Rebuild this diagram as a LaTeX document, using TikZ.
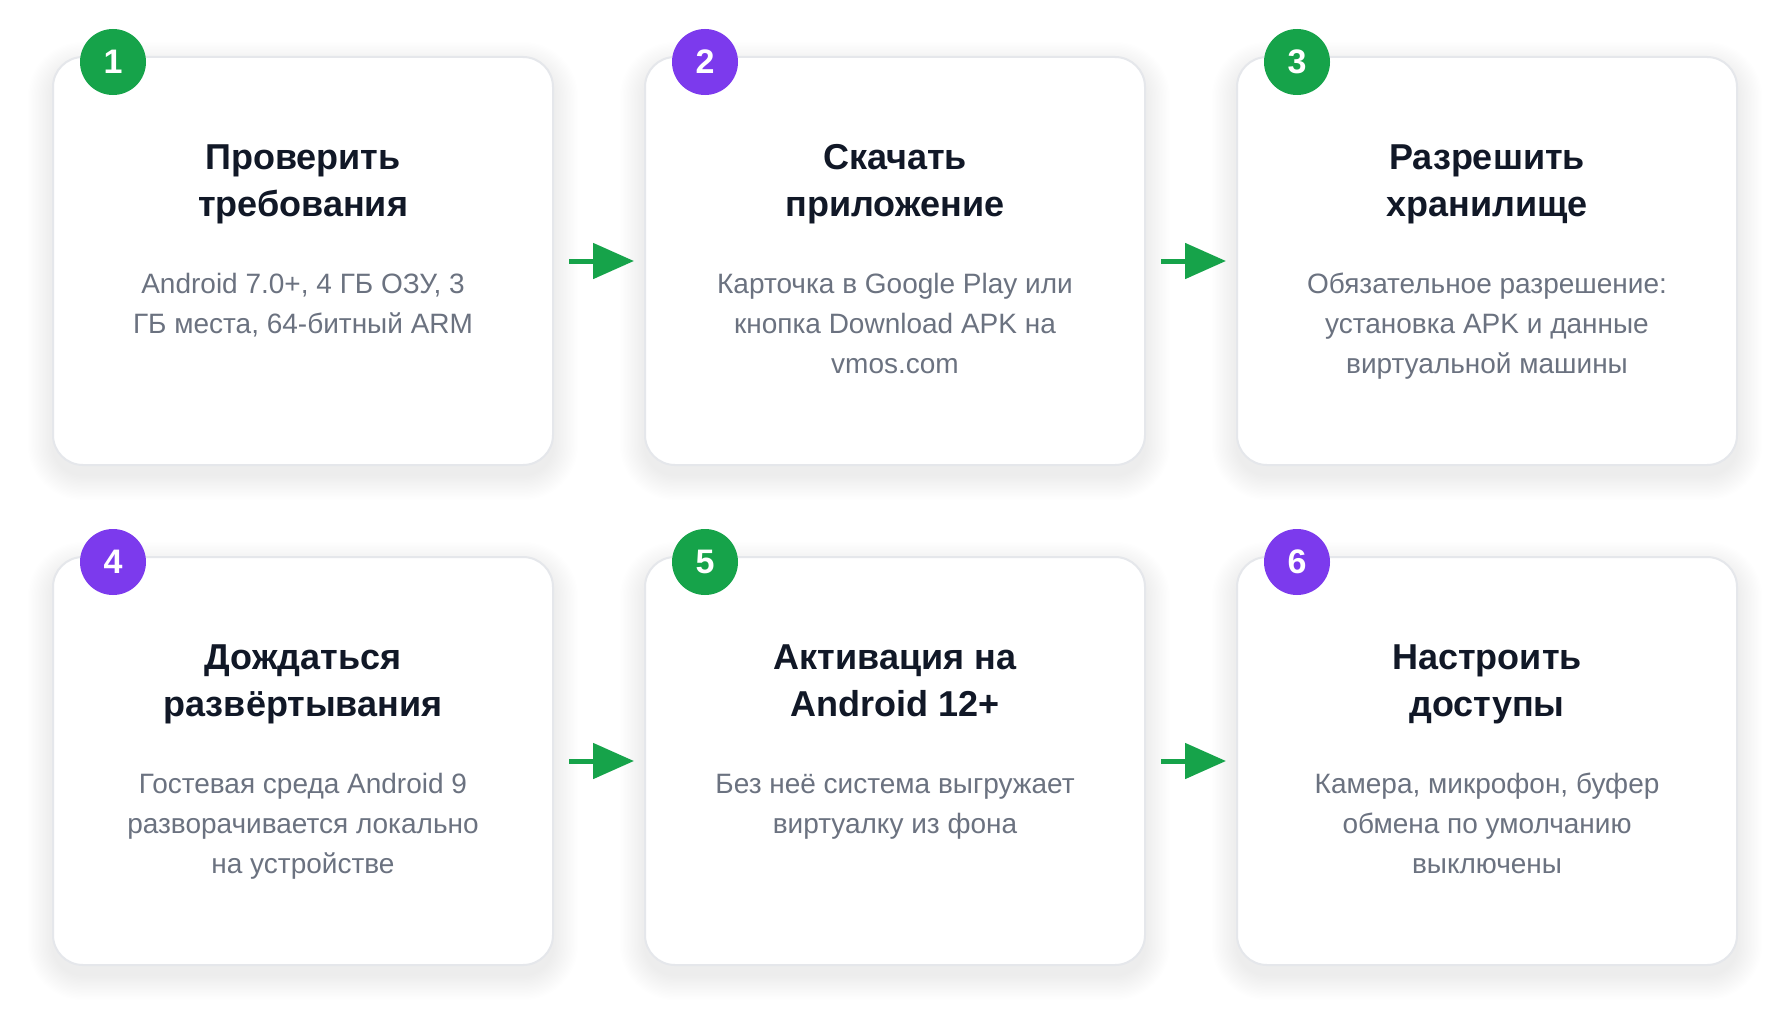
\documentclass[tikz,border=0pt]{standalone}
\usepackage{fontspec}
\setmainfont{Liberation Sans}
\usetikzlibrary{arrows.meta}
\definecolor{cardline}{HTML}{E5E7EB}
\definecolor{stepgreen}{HTML}{16A34A}
\definecolor{stepviolet}{HTML}{7C3AED}
\definecolor{titleink}{HTML}{111827}
\definecolor{textink}{HTML}{6B7280}
% soft shadow under a card centred at #1
\newcommand\cardshadow[1]{\foreach \k in {1,...,18}{\fill[black,opacity=0.0035,rounded corners=30pt+1.4*\k pt]
	([shift={(-250-1.4*\k,-204-1.4*\k+10)}]#1) rectangle ([shift={(250+1.4*\k,204+1.4*\k+10)}]#1);}}
\begin{document}
\begin{tikzpicture}[x=1pt,y=-1pt,line join=round,
	card/.style={draw=cardline,line width=2pt,fill=white,rounded corners=30pt,
		minimum width=500pt,minimum height=408pt,inner sep=0pt,outer sep=0pt},
	badge/.style={circle,fill=#1,minimum size=66pt,inner sep=0pt,text=white,
		font=\fontsize{34}{34}\selectfont\bfseries},
	ttl/.style={align=center,anchor=north,inner sep=0pt,text=titleink,
		font=\fontsize{36}{47}\selectfont\bfseries},
	txt/.style={align=center,anchor=north,inner sep=0pt,text=textink,
		font=\fontsize{28}{40}\selectfont},
	flow/.style={stepgreen,line width=5pt,-{Triangle[length=41pt,width=35pt]}}]
		\fill[white] (0,0) rectangle (1790,1025);
		\useasboundingbox (0,0) rectangle (1790,1025);
		\coordinate (p1) at (303,261);
		\coordinate (p2) at (895,261);
		\coordinate (p3) at (1487,261);
		\coordinate (p4) at (303,761);
		\coordinate (p5) at (895,761);
		\coordinate (p6) at (1487,761);
		\cardshadow{p1}\cardshadow{p2}\cardshadow{p3}
		\cardshadow{p4}\cardshadow{p5}\cardshadow{p6}
		% cards
		\node[card] (c1) at (p1) {};
		\node[card] (c2) at (p2) {};
		\node[card] (c3) at (p3) {};
		\node[card] (c4) at (p4) {};
		\node[card] (c5) at (p5) {};
		\node[card] (c6) at (p6) {};
		% numbers
		\node[badge=stepgreen] (n1) at ([shift={(60,5)}]c1.north west) {1};
		\node[badge=stepviolet] (n2) at ([shift={(60,5)}]c2.north west) {2};
		\node[badge=stepgreen] (n3) at ([shift={(60,5)}]c3.north west) {3};
		\node[badge=stepviolet] (n4) at ([shift={(60,5)}]c4.north west) {4};
		\node[badge=stepgreen] (n5) at ([shift={(60,5)}]c5.north west) {5};
		\node[badge=stepviolet] (n6) at ([shift={(60,5)}]c6.north west) {6};
		% titles (first baseline 112pt below the top)
		\node[ttl] (t1) at ([yshift=-79.1pt]c1.north) {\strut Проверить\\требования};
		\node[ttl] (t2) at ([yshift=-79.1pt]c2.north) {\strut Скачать\\приложение};
		\node[ttl] (t3) at ([yshift=-79.1pt]c3.north) {\strut Разрешить\\хранилище};
		\node[ttl] (t4) at ([yshift=-79.1pt]c4.north) {\strut Дождаться\\развёртывания};
		\node[ttl] (t5) at ([yshift=-79.1pt]c5.north) {\strut Активация на\\Android 12+};
		\node[ttl] (t6) at ([yshift=-79.1pt]c6.north) {\strut Настроить\\доступы};
		% descriptions (first baseline 236pt below the top)
		\node[txt] (d1) at ([yshift=-208pt]c1.north) {\strut Android 7.0+, 4 ГБ ОЗУ, 3\\ГБ места, 64-битный ARM};
		\node[txt] (d2) at ([yshift=-208pt]c2.north) {\strut Карточка в Google Play или\\кнопка Download APK на\\vmos.com};
		\node[txt] (d3) at ([yshift=-208pt]c3.north) {\strut Обязательное разрешение:\\установка APK и данные\\виртуальной машины};
		\node[txt] (d4) at ([yshift=-208pt]c4.north) {\strut Гостевая среда Android 9\\разворачивается локально\\на устройстве};
		\node[txt] (d5) at ([yshift=-208pt]c5.north) {\strut Без неё система выгружает\\виртуалку из фона};
		\node[txt] (d6) at ([yshift=-208pt]c6.north) {\strut Камера, микрофон, буфер\\обмена по умолчанию\\выключены};
		% arrows
		\draw[flow] ([xshift=16pt]c1.east) -- ([xshift=-11pt]c2.west);
		\draw[flow] ([xshift=16pt]c2.east) -- ([xshift=-11pt]c3.west);
		\draw[flow] ([xshift=16pt]c4.east) -- ([xshift=-11pt]c5.west);
		\draw[flow] ([xshift=16pt]c5.east) -- ([xshift=-11pt]c6.west);
\end{tikzpicture}
\end{document}
